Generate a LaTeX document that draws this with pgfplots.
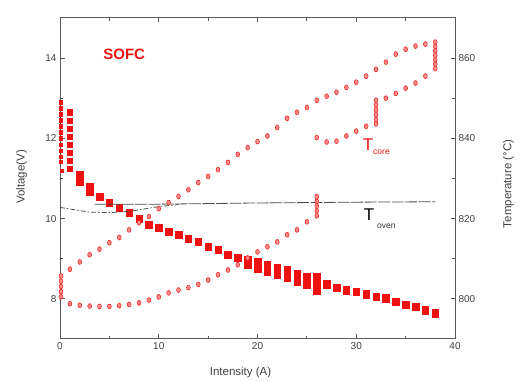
\documentclass[border=0pt]{standalone}
\usepackage{pgfplots}
\pgfplotsset{compat=1.18}
\usepackage{fontspec}
\setmainfont{Liberation Sans}
\definecolor{axgray}{HTML}{5A5A5A}
\definecolor{sred}{HTML}{EE1111}
\definecolor{cred}{HTML}{EE2A2A}
\begin{document}
\begin{tikzpicture}
\pgfplotsset{
  common/.style={scale only axis, width=395pt, height=321pt, xmin=0, xmax=40,
    tick align=inside, axis line style={axgray, line width=1pt},
    every tick/.style={axgray, line width=0.9pt},
    major tick length=4.5pt, minor tick length=3pt,
    tick label style={font=\fontsize{10}{12}\selectfont, text=black!75},
    /pgf/number format/assume math mode=true,
    label style={font=\fontsize{11.5}{14}\selectfont, text=black!75},
    clip=false},
}
\begin{axis}[common, ymin=7, ymax=15,
  ytick={8,10,12,14}, minor ytick={9,11,13}, ytick pos=left,
  xtick={0,10,20,30,40}, minor xtick={5,15,25,35},
  xlabel={Intensity (A)}, ylabel={Voltage(V)},
  xlabel style={at={(axis description cs:0.457,-0.103)}, anchor=center},
  ylabel style={at={(axis description cs:-0.097,0.505)}, anchor=center}]
% I = 0 strip (narrow)
\addplot[only marks, mark=square*, mark size=1.4pt, color=sred, mark options={yscale=1.2}] coordinates {
 (0.1,12.9)(0.1,12.75)(0.1,12.6)(0.1,12.45)(0.1,12.3)(0.1,12.15)(0.1,12.0)(0.1,11.85)(0.1,11.7)(0.1,11.55)(0.1,11.42)(0.15,11.2)};
% I = 1 strip
\addplot[only marks, mark=square*, mark size=2.6pt, color=sred] coordinates {
 (1,12.65)(1,12.45)(1,12.25)(1,12.05)(1,11.85)(1,11.65)(1,11.45)(1,11.25)};
% Voltage squares
\addplot[only marks, mark=square*, mark size=3.2pt, color=sred, mark options={yscale=1.15}] coordinates {
 (2,11.1)(2,10.92)(3,10.8)(3,10.68)
 (4,10.55)(5,10.4)(6,10.27)(7,10.15)(8,10.0)(9,9.85)(10,9.77)(11,9.67)(12,9.6)
 (13,9.5)(14,9.42)(15,9.3)(16,9.22)(17,9.1)(18,9.02)
 (19,8.97)(19,8.85)(20,8.93)(20,8.75)(21,8.85)(21,8.68)(22,8.78)(22,8.6)
 (23,8.72)(23,8.53)(24,8.62)(24,8.44)(25,8.55)(25,8.36)
 (26,8.55)(26,8.42)(26,8.3)(26,8.22)
 (27,8.37)(28,8.28)(29,8.22)(30,8.18)(31,8.12)(32,8.06)(33,8.02)(34,7.93)
 (35,7.85)(36,7.81)(37,7.72)(38,7.64)};
\node[anchor=base west, inner sep=0, text=sred, font=\fontsize{15}{17}\selectfont\bfseries] at (axis cs:4.37,13.97) {SOFC};
\node[anchor=base west, inner sep=0, text=sred, font=\fontsize{17}{19}\selectfont] at (axis cs:30.66,11.7) {T};
\node[anchor=base west, inner sep=0, text=sred, font=\fontsize{8.5}{10}\selectfont] at (axis cs:31.7,11.6) {core};
\node[anchor=base west, inner sep=0, text=black, font=\fontsize{17}{19}\selectfont] at (axis cs:30.76,9.95) {T};
\node[anchor=base west, inner sep=0, text=black!80, font=\fontsize{8.5}{10}\selectfont] at (axis cs:32.1,9.75) {oven};
\end{axis}
\begin{axis}[common, axis x line=none, axis y line*=right, ytick pos=right,
  ymin=790, ymax=870, ytick={800,820,840,860}, minor ytick={810,830,850},
  y axis line style={-}, ytick align=inside,
  ylabel={Temperature (°C)},
  ylabel style={at={(axis description cs:1.135,0.483)}, anchor=center}]
% T oven
\addplot[black!70, line width=0.8pt, dash pattern=on 5pt off 2pt on 1.5pt off 2pt] coordinates {
 (0,822.8)(1.5,822.2)(3,821.6)(5,821.5)(7,821.8)(8.5,822.4)(10,823)(12,823.5)};
\addplot[black!70, line width=0.8pt, dash pattern=on 12pt off 1.5pt] coordinates {
 (3.5,823.6)(10,823.6)(20,823.9)(30,824.1)(38,824.2)};
% T core
\addplot[only marks, mark=*, mark size=1.9pt, color=cred, mark options={fill=red!45, draw=cred, line width=0.6pt, yscale=1.3}] coordinates {
 (0.1,800.5)(0.1,801.8)(0.1,803.1)(0.1,804.4)(0.1,805.7)
 (1,798.8)(2,798.4)(3,798.2)(4,798.1)(5,798.1)(6,798.3)(7,798.6)(8,799)(9,799.7)(10,800.5)
 (11,801.5)(12,802.2)(13,802.8)(14,803.6)(15,804.7)(16,806)(17,807.2)(18,808.5)(19,810.2)
 (20,811.7)(21,813)(22,814.2)(23,816)(24,817.2)(25,819.2)
 (26,820.7)(26,821.9)(26,823.1)(26,824.3)(26,825.5)
 (1,807.4)(2,809.2)(3,811)(4,812.4)(5,814)(6,815.3)(7,817.2)(8,819)(9,820.5)(10,822.5)
 (11,824)(12,825.5)(13,827.2)(14,829)(15,830.5)(16,832.2)(17,834)(18,836)(19,837.7)
 (20,839.2)(21,840.6)(22,842.7)(23,845)(24,846.5)(25,847.7)(26,849.5)(27,850.5)
 (28,851.5)(29,852.7)(30,854)(31,855.5)(32,857.2)(33,859)(34,861)(35,862.2)(36,863)(37,863.5)
 (38,864)(38,862.9)(38,861.8)(38,860.7)(38,859.6)(38,858.5)(38,857.4)
 (37,855.5)(36,853.8)(35,852.5)(34,851.2)(33,850)
 (32,849.5)(32,848.3)(32,847.1)(32,845.9)(32,844.7)(32,843.6)
 (31,843)(30,841.8)(29,840.6)(28,839.3)(27,839.1)(26,840.2)};
\end{axis}
\path ([shift={(-60pt,-42pt)}]current axis.south west) rectangle ([shift={(67pt,18pt)}]current axis.north east);
\end{tikzpicture}
\end{document}
